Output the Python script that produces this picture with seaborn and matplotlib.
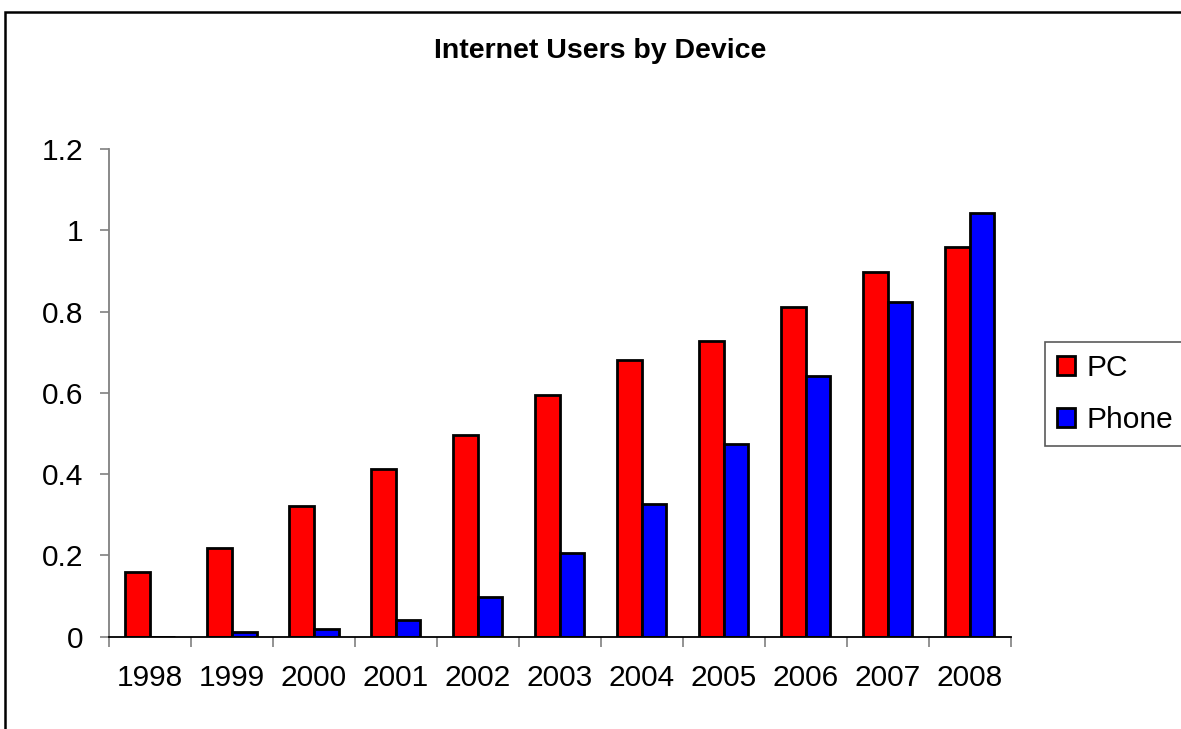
import matplotlib
matplotlib.use("Agg")
import matplotlib.pyplot as plt
import matplotlib.patches as mpatches
from matplotlib.ticker import FixedLocator, NullFormatter
import seaborn as sns
import pandas as pd

years = ["1998", "1999", "2000", "2001", "2002", "2003",
         "2004", "2005", "2006", "2007", "2008"]
pc_users = [0.158, 0.219, 0.321, 0.412, 0.497, 0.594,
            0.680, 0.727, 0.812, 0.897, 0.958]
phone_users = [0.0, 0.012, 0.018, 0.041, 0.097, 0.205,
               0.327, 0.473, 0.641, 0.824, 1.043]
devices = ["PC", "Phone"]
device_colors = {"PC": "#ff0000", "Phone": "#0000ff"}
y_ticks = [0, 0.2, 0.4, 0.6, 0.8, 1.0, 1.2]
title = "Internet Users by Device"

df = pd.DataFrame({
    "year": years * 2,
    "users": pc_users + phone_users,
    "device": ["PC"] * len(years) + ["Phone"] * len(years),
})

sns.set_style("white")
plt.rcParams["font.family"] = ["Liberation Sans", "DejaVu Sans"]
plt.rcParams["text.color"] = "black"
plt.rcParams["xtick.labelcolor"] = "black"
plt.rcParams["ytick.labelcolor"] = "black"

W, H = 1181, 729
fig = plt.figure(figsize=(W / 100, H / 100), dpi=100)
ax = fig.add_axes([109 / W, 1 - 636.7 / H, (1010.7 - 109) / W, (636.7 - 149) / H])

sns.barplot(data=df, x="year", y="users", hue="device", order=years,
            hue_order=devices, palette=device_colors, width=0.6,
            edgecolor="black", linewidth=2.0, saturation=1, ax=ax)
if ax.get_legend() is not None:
    ax.get_legend().remove()

ax.set_xlim(-0.5, len(years) - 0.5)
ax.set_ylim(0, 1.2)
ax.set_xlabel("")
ax.set_ylabel("")

# y axis: Excel-like outward ticks, grey axis line
ax.set_yticks(y_ticks)
ax.set_yticklabels([f"{v:g}" for v in y_ticks])
ax.tick_params(axis="y", direction="out", length=6.5, width=1.2,
               color="#808080", pad=12, labelsize=21.5, left=True,
               labelcolor="black")

# x axis: tick marks between categories, labels centred under groups
ax.xaxis.set_major_locator(FixedLocator([i - 0.5 for i in range(len(years) + 1)]))
ax.xaxis.set_major_formatter(NullFormatter())
ax.xaxis.set_minor_locator(FixedLocator(list(range(len(years)))))
ax.set_xticklabels(years, minor=True)
ax.tick_params(axis="x", which="major", direction="out", length=7.5,
               width=1.2, color="#808080", bottom=True)
ax.tick_params(axis="x", which="minor", length=0, pad=20, labelsize=21.5,
               labelcolor="black")

for side in ("top", "right"):
    ax.spines[side].set_visible(False)
ax.spines["left"].set_color("#808080")
ax.spines["left"].set_linewidth(1.3)
ax.spines["bottom"].set_color("black")
ax.spines["bottom"].set_linewidth(1.3)

fig.text(600 / W, 1 - 57.7 / H, title, ha="center", va="baseline",
         fontsize=20.5, fontweight="bold", color="black")

handles = [mpatches.Patch(facecolor=device_colors[d], edgecolor="black",
                          linewidth=2.0) for d in devices]
leg = fig.legend(handles, devices, loc="upper left",
                 bbox_to_anchor=(1045 / W, 1 - 342 / H),
                 bbox_transform=fig.transFigure, fontsize=21.5,
                 frameon=True, fancybox=False, edgecolor="#303030",
                 borderpad=0.4, borderaxespad=0, handlelength=0.6,
                 handleheight=0.6, handletextpad=0.4, labelspacing=0.82)
leg.get_frame().set_linewidth(1.2)
for t in leg.get_texts():
    t.set_color("black")

# outer chart border
fig.patches.append(mpatches.Rectangle(
    (4.5 / W, -0.2), 1.2, (1 - 12.5 / H) + 0.2, transform=fig.transFigure,
    fill=False, edgecolor="black", linewidth=1.8))

fig.savefig("out.png", dpi=100)
